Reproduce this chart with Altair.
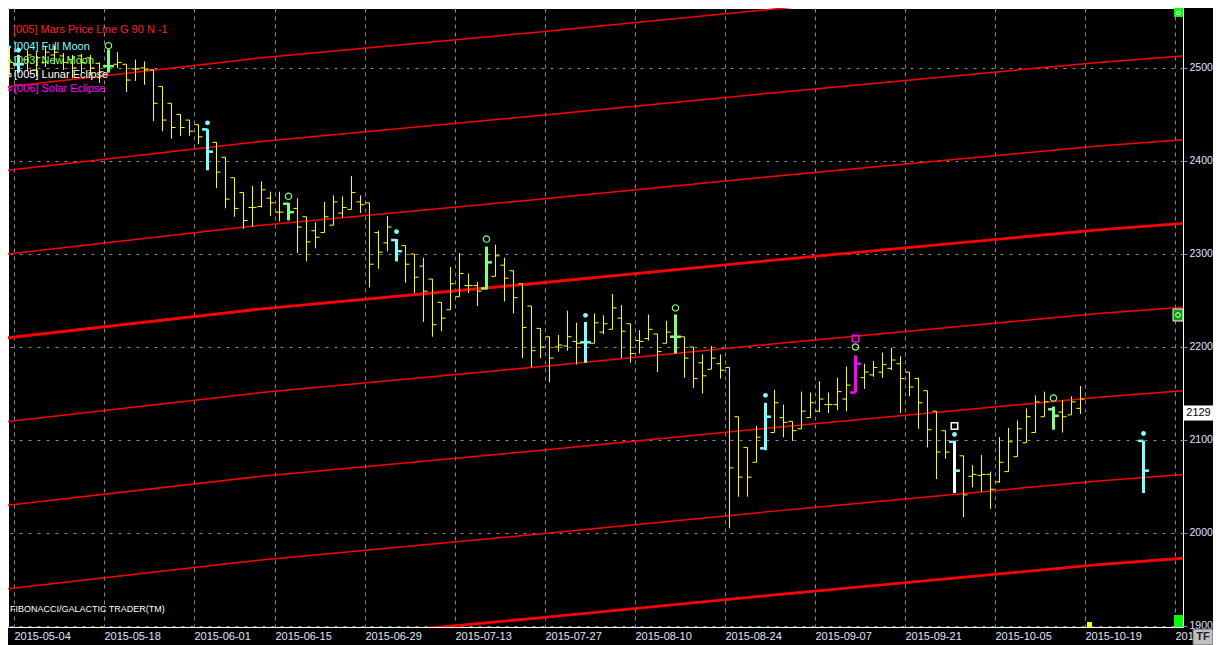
import altair as alt
import pandas as pd

# ---------------- data ----------------
# bar index: 0 = 2015-05-04, one step per trading day
bar_index = list(range(-1, 119)) + [125]
highs = [2523, 2514, 2519, 2517, 2523, 2524, 2516, 2514, 2515, 2514, 2506, 2520, 2517, 2504, 2509, 2507,
         2498, 2480, 2462, 2450, 2444, 2439, 2434, 2420, 2404, 2382, 2366, 2373, 2378, 2367, 2367, 2355,
         2360, 2340, 2334, 2356, 2363, 2362, 2384, 2363, 2355, 2325, 2341, 2316, 2309, 2300, 2296, 2273,
         2248, 2286, 2301, 2279, 2270, 2308, 2310, 2296, 2282, 2268, 2244, 2220, 2211, 2213, 2239, 2226,
         2227, 2236, 2234, 2257, 2245, 2225, 2218, 2235, 2214, 2228, 2235, 2211, 2200, 2192, 2201, 2192,
         2178, 2125, 2092, 2115, 2140, 2154, 2138, 2120, 2152, 2151, 2163, 2151, 2167, 2179, 2191, 2182,
         2185, 2194, 2199, 2190, 2173, 2167, 2153, 2131, 2110, 2099, 2083, 2073, 2084, 2066, 2103, 2113,
         2121, 2134, 2148, 2152, 2136, 2143, 2147, 2158, 2099]
lows = [2492, 2495, 2498, 2491, 2501, 2504, 2498, 2489, 2495, 2492, 2484, 2495, 2500, 2474, 2486, 2482,
        2443, 2432, 2424, 2427, 2427, 2418, 2390, 2371, 2349, 2340, 2327, 2329, 2350, 2341, 2335, 2336,
        2301, 2292, 2306, 2323, 2331, 2339, 2348, 2344, 2264, 2284, 2303, 2292, 2269, 2258, 2227, 2211,
        2217, 2240, 2254, 2258, 2244, 2262, 2276, 2249, 2236, 2188, 2178, 2188, 2162, 2195, 2196, 2181,
        2183, 2204, 2214, 2219, 2188, 2183, 2193, 2207, 2173, 2204, 2193, 2167, 2156, 2150, 2176, 2166,
        2005, 2039, 2039, 2076, 2089, 2108, 2103, 2099, 2112, 2124, 2130, 2129, 2132, 2131, 2151, 2155,
        2168, 2167, 2175, 2129, 2147, 2112, 2092, 2058, 2080, 2043, 2017, 2049, 2044, 2026, 2054, 2066,
        2082, 2097, 2108, 2125, 2111, 2108, 2127, 2128, 2043]
opens = [2519, 2504, 2509, 2498, 2506, 2514, 2513, 2509, 2513, 2511, 2505, 2502, 2504, 2504, 2499, 2500,
         2498, 2480, 2462, 2450, 2444, 2439, 2434, 2420, 2404, 2382, 2366, 2350, 2351, 2360, 2345, 2354,
         2349, 2340, 2325, 2323, 2331, 2344, 2348, 2356, 2355, 2323, 2312, 2315, 2309, 2300, 2287, 2273,
         2248, 2240, 2254, 2266, 2266, 2263, 2276, 2288, 2282, 2268, 2244, 2220, 2211, 2200, 2201, 2206,
         2205, 2204, 2216, 2219, 2231, 2225, 2207, 2209, 2214, 2204, 2211, 2211, 2200, 2183, 2176, 2182,
         2178, 2125, 2092, 2076, 2091, 2108, 2124, 2120, 2112, 2124, 2131, 2138, 2138, 2144, 2151, 2167,
         2170, 2173, 2177, 2182, 2173, 2166, 2153, 2131, 2110, 2098, 2083, 2061, 2062, 2063, 2055, 2066,
         2082, 2097, 2108, 2125, 2133, 2130, 2127, 2134, 2099]
closes = [2506, 2504, 2514, 2511, 2517, 2517, 2506, 2500, 2506, 2500, 2496, 2502, 2506, 2487, 2499, 2498,
          2462, 2444, 2436, 2436, 2432, 2426, 2410, 2388, 2359, 2349, 2336, 2350, 2369, 2355, 2345, 2345,
          2329, 2313, 2318, 2340, 2356, 2350, 2366, 2353, 2289, 2302, 2329, 2303, 2289, 2275, 2260, 2224,
          2231, 2268, 2279, 2266, 2260, 2291, 2298, 2274, 2253, 2221, 2196, 2200, 2188, 2202, 2211, 2204,
          2205, 2226, 2225, 2242, 2217, 2193, 2206, 2219, 2195, 2216, 2211, 2188, 2166, 2169, 2188, 2175,
          2070, 2060, 2060, 2103, 2125, 2140, 2119, 2110, 2131, 2140, 2144, 2138, 2152, 2159, 2182, 2173,
          2178, 2181, 2186, 2166, 2157, 2140, 2111, 2087, 2087, 2067, 2041, 2063, 2063, 2047, 2076, 2098,
          2112, 2125, 2141, 2141, 2126, 2125, 2141, 2144, 2067]

event_index = [0, 10, 21, 30, 42, 52, 63, 73, 83, 93, 104, 115, 125]
event_kind = ["full", "new", "full", "new", "full", "new", "full", "new", "full", "solar", "lunar", "new", "full"]

marker_index = [0, 10, 21, 30, 42, 52, 63, 73, 83, 93, 93, 104, 104, 115, 125]
marker_kind = ["full", "new", "full", "new", "full", "new", "full", "new", "full", "new", "solar",
               "full", "lunar", "new", "full"]
marker_price = [2519, 2524, 2441, 2362, 2324, 2316, 2234, 2242, 2148, 2200, 2209, 2106, 2115, 2145, 2107]

mars_index = [-2, 27, 57, 84, 120, 131]
mars_price = [2209, 2241, 2268, 2293.5, 2326, 2334]
mars_harmonics = [-360, -270, -180, -90, 0, 90, 180, 270, 360]
mars_main = [-360, 0]

date_ticks = [-0.5, 9.5, 19.5, 28.5, 38.5, 48.5, 58.5, 68.5, 78.5, 88.5, 98.5, 108.5, 118.5, 128.5]
date_labels = ["2015-05-04", "2015-05-18", "2015-06-01", "2015-06-15", "2015-06-29", "2015-07-13",
               "2015-07-27", "2015-08-10", "2015-08-24", "2015-09-07", "2015-09-21", "2015-10-05",
               "2015-10-19", "2015-11-02"]
price_ticks = [1900, 2000, 2100, 2200, 2300, 2400, 2500]
last_price = 2129

# ---------------- tables ----------------
ev_map = dict(zip(event_index, event_kind))
bars_df = pd.DataFrame({"j": bar_index, "o": opens, "h": highs, "l": lows, "c": closes})
bars_df["ev"] = [ev_map.get(j, "none") for j in bar_index]
bars_df["tk"] = ["full" if e == "lunar" else e for e in bars_df["ev"]]

mars_rows = []
for k in mars_harmonics:
    for j, p in zip(mars_index, mars_price):
        mars_rows.append({"k": k, "j": j, "p": p + k, "main": k in mars_main})
mars_df = pd.DataFrame(mars_rows)

marks_df = pd.DataFrame({"j": marker_index, "kind": marker_kind, "p": marker_price})

# ---------------- scales / axes ----------------
FONT = "Liberation Sans"
LBL = "#dfe6ff"
W, H = 1175, 619
xs = alt.Scale(domain=[-1.1667, 129.389], nice=False, zero=False)
ys = alt.Scale(domain=[1898.9, 2564.5], nice=False, zero=False)

label_expr = ("[" + ",".join("'%s'" % d for d in date_labels) + "][indexof(["
              + ",".join(str(t) for t in date_ticks) + "], datum.value)]")
xaxis = alt.Axis(values=date_ticks, labelExpr=label_expr, orient="bottom", grid=True,
                 gridColor="#8a8a8a", gridDash=[4, 4], gridWidth=1, ticks=False, domain=False,
                 labelAlign="left", labelColor=LBL, labelFont=FONT, labelFontSize=11,
                 labelPadding=3, labelFlush=False, labelOverlap=False, title=None)
yaxis = alt.Axis(values=price_ticks, orient="right", grid=True, gridColor="#8a8a8a",
                 gridDash=[3, 6], gridWidth=1, ticks=True, tickColor="#8a8a8a", tickSize=4,
                 domain=False, labelColor=LBL, labelFont=FONT, labelFontSize=10.5, labelPadding=2,
                 labelFlush=False, labelOverlap=False, format="d", title=None)


def X(f):
    return alt.X(f, type="quantitative", scale=xs, axis=xaxis)


def Y(f):
    return alt.Y(f, type="quantitative", scale=ys, axis=yaxis)


kinds = ["full", "new", "lunar", "solar"]
kind_cols = ["#80ffff", "#80ff80", "#ffffff", "#ff00ff"]
cs = alt.Scale(domain=kinds, range=kind_cols)

# ---------------- layers ----------------
mars = alt.Chart(mars_df)
mars_thin = mars.transform_filter("!datum.main").mark_line(color="#ff0000", strokeWidth=1.5, clip=True).encode(
    x=X("j"), y=Y("p"), detail="k:N")
mars_thick = mars.transform_filter("datum.main").mark_line(color="#ff0000", strokeWidth=2.8, clip=True).encode(
    x=X("j"), y=Y("p"), detail="k:N")

base = alt.Chart(bars_df)
plain = base.transform_filter("datum.ev == 'none'")
hl = plain.mark_rule(color="#ffff00", strokeWidth=1).encode(x=X("j"), y=Y("l"), y2="h")
ot = plain.transform_calculate(xa="datum.j - 0.45").mark_rule(color="#ffff00", strokeWidth=1).encode(
    x=X("xa"), x2="j", y=Y("o"))
ct = plain.transform_calculate(xb="datum.j + 0.45").mark_rule(color="#ffff00", strokeWidth=1).encode(
    x=X("j"), x2="xb", y=Y("c"))

evb = base.transform_filter("datum.ev != 'none'")
ev_hl = evb.mark_rule(strokeWidth=3).encode(x=X("j"), y=Y("l"), y2="h",
                                            color=alt.Color("ev:N", scale=cs, legend=None))
ev_ot = evb.transform_calculate(xa="datum.j - 0.6").mark_rule(strokeWidth=2.5).encode(
    x=X("xa"), x2="j", y=Y("o"), color=alt.Color("tk:N", scale=cs, legend=None))
ev_ct = evb.transform_calculate(xb="datum.j + 0.6").mark_rule(strokeWidth=2.5).encode(
    x=X("j"), x2="xb", y=Y("c"), color=alt.Color("tk:N", scale=cs, legend=None))

mk = alt.Chart(marks_df)
m_full = mk.transform_filter("datum.kind == 'full'").mark_point(
    shape="circle", filled=True, size=24, color="#80ffff", opacity=1).encode(x=X("j"), y=Y("p"))
m_new = mk.transform_filter("datum.kind == 'new'").mark_point(
    shape="circle", filled=False, size=40, strokeWidth=1.2, color="#80ff80", opacity=1).encode(x=X("j"), y=Y("p"))
m_lunar = mk.transform_filter("datum.kind == 'lunar'").mark_point(
    shape="square", filled=False, size=42, strokeWidth=1.5, color="#ffffff", opacity=1).encode(x=X("j"), y=Y("p"))
m_solar = mk.transform_filter("datum.kind == 'solar'").mark_point(
    shape="square", filled=False, size=42, strokeWidth=1.5, color="#ff00ff", opacity=1).encode(x=X("j"), y=Y("p"))

one = pd.DataFrame({"a": [0]})


def txt(s, x, y, col, size=11, align="left", weight="normal"):
    return alt.Chart(one).mark_text(text=s, color=col, font=FONT, fontSize=size, align=align,
                                    baseline="middle", fontWeight=weight).encode(
        x=alt.value(x), y=alt.value(y))


def box(x1, x2, y1, y2, fill, stroke=None):
    kw = {"fill": fill}
    if stroke:
        kw["stroke"] = stroke
        kw["strokeWidth"] = 1
    return alt.Chart(one).mark_rect(**kw).encode(
        x=alt.value(x1), x2=alt.value(x2), y=alt.value(y1), y2=alt.value(y2))


def icon(x, y, shape, col, filled, size):
    return alt.Chart(one).mark_point(shape=shape, filled=filled, color=col, size=size, opacity=1,
                                     strokeWidth=1).encode(x=alt.value(x), y=alt.value(y))


legend = [
    txt("[005] Mars Price Line G 90 N -1", 5, 22, "#ff2020"),
    icon(1.5, 39, "circle", "#80ffff", True, 10), txt("[004] Full Moon", 6, 39, "#80ffff"),
    icon(1.5, 53, "circle", "#80ff80", False, 10), txt("[003] New Moon", 6, 53, "#80ff80"),
    icon(1.5, 67, "square", "#ffffff", False, 10), txt("[005] Lunar Eclipse", 6, 67, "#ffffff"),
    icon(1.5, 81, "square", "#ff00ff", False, 10), txt("[006] Solar Eclipse", 6, 81, "#ff00ff"),
    txt("FIBONACCI/GALACTIC TRADER(TM)", 2, 601, "#ffffff", size=9),
]

price_df = pd.DataFrame({"p": [last_price], "t": [str(last_price)]})
price_box = alt.Chart(price_df).mark_point(
    shape="M-1,-0.52H1V0.52H-1Z", filled=True, color="#ffffff", size=841, opacity=1).encode(
    x=alt.value(W + 15.5), y=Y("p"))
price_txt = alt.Chart(price_df).mark_text(color="#000000", font=FONT, fontSize=11).encode(
    x=alt.value(W + 15.5), y=Y("p"), text="t:N")

decor = [
    box(W - 9, W, 0, 9, "#00ff00"),
    icon(W - 4.5, 5, "square", "#ffffff", False, 10),
    box(W - 10, W, 301, 313, "#00a000", "#ffffff"),
    icon(W - 5, 307, "circle", "#ffffff", False, 22),
    box(W - 9, W, 607, 619, "#00ff00"),
    box(1079, 1084, 614, 619, "#ffff00"),
    box(1185, 1205, 621, 637, "#c0c0c0", "#606060"),
    txt("TF", 1195, 629, "#202020", size=11, align="center", weight="bold"),
]

chart = alt.layer(
    mars_thin, mars_thick, hl, ot, ct, ev_hl, ev_ot, ev_ct,
    m_full, m_new, m_lunar, m_solar, price_box, price_txt, *legend, *decor
).properties(
    width=W, height=H,
    autosize=alt.AutoSizeParams(type="none"),
    padding={"left": 0, "top": 0, "right": 30, "bottom": 18},
    background="#000000"
).configure(
    font=FONT
).configure_view(
    fill="#000000", stroke="#ffffff", strokeWidth=1
)

chart.save("out.html", embed_options={"renderer": "svg", "actions": False})
